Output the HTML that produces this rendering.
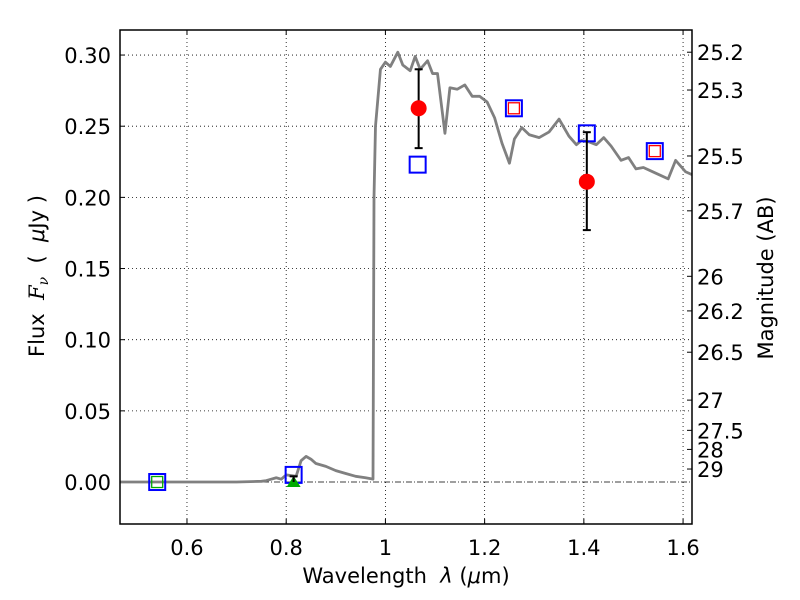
<!DOCTYPE html>
<html><head><meta charset="utf-8"><style>
body{margin:0;background:#fff;}
svg{display:block;font-family:"DejaVu Sans","Liberation Sans",sans-serif;}
</style></head><body>
<svg id="chart" width="800" height="600" viewBox="0 0 800 600"></svg>
<script>
const xTicks=[0.6,0.8,1.0,1.2,1.4,1.6];
const xTickLabels=["0.6","0.8","1","1.2","1.4","1.6"];
const yTicks=[0,0.05,0.10,0.15,0.20,0.25,0.30];
const yTickLabels=["0.00","0.05","0.10","0.15","0.20","0.25","0.30"];
const magTicks=[25.2,25.3,25.5,25.7,26,26.2,26.5,27,27.5,28,29];
const specX=[0.465,0.6,0.7,0.75,0.76,0.78,0.79,0.80,0.82,0.83,0.84,0.85,0.86,0.88,0.90,0.92,0.94,0.96,0.975,0.977,0.98,0.99,1.0,1.01,1.025,1.035,1.05,1.06,1.07,1.085,1.095,1.105,1.12,1.13,1.145,1.16,1.175,1.19,1.205,1.22,1.235,1.25,1.26,1.275,1.29,1.31,1.33,1.35,1.37,1.385,1.395,1.41,1.425,1.44,1.455,1.475,1.49,1.505,1.52,1.545,1.57,1.585,1.605,1.618];
const specY=[0,0,0,0.0005,0.001,0.003,0.002,0.005,0.004,0.015,0.018,0.016,0.013,0.011,0.008,0.006,0.004,0.003,0.002,0.2,0.25,0.29,0.295,0.292,0.302,0.293,0.289,0.299,0.290,0.296,0.287,0.287,0.245,0.277,0.276,0.279,0.271,0.271,0.267,0.256,0.238,0.224,0.241,0.249,0.244,0.242,0.246,0.255,0.243,0.237,0.240,0.239,0.237,0.242,0.236,0.226,0.228,0.220,0.221,0.217,0.213,0.226,0.218,0.216];
const obsX=[1.067,1.406];
const obsY=[0.2626,0.211];
const obsLo=[0.2346,0.177];
const obsHi=[0.290,0.2458];
const modelX=[0.540,0.815,1.065,1.259,1.406,1.543];
const modelY=[0.0,0.005,0.223,0.2626,0.245,0.2325];
const redX=[1.259,1.543];
const redY=[0.2626,0.2325];
const greenSqX=[0.540];
const greenSqY=[0.0];
const triX=[0.815];
const triY=[0.0];
const triHi=[0.004];

const L=120,R=692,T=30,B=524;
const X0=0.465,X1=1.618,Y0=-0.0295,Y1=0.3176;
const sx=v=>L+(v-X0)/(X1-X0)*(R-L);
const sy=v=>B-(v-Y0)/(Y1-Y0)*(B-T);
const svg=document.getElementById('chart');
const NS='http://www.w3.org/2000/svg';
function mk(tag,attrs,parent){const e=document.createElementNS(NS,tag);for(const k in attrs)e.setAttribute(k,attrs[k]);(parent||svg).appendChild(e);return e;}

xTicks.forEach((t,i)=>{
 const g=mk('line',{x1:sx(t),x2:sx(t),y1:T,y2:B,stroke:'#000','stroke-width':0.8,'stroke-dasharray':'1,3'});
 
 
 mk('line',{x1:sx(t),x2:sx(t),y1:B,y2:B-5,stroke:'#000'});
 mk('line',{x1:sx(t),x2:sx(t),y1:T,y2:T+5,stroke:'#000'});
 const tx=mk('text',{x:sx(t),y:B+31,'font-size':21,'text-anchor':'middle'});
 tx.textContent=xTickLabels[i];
 
 
});
yTicks.forEach((t,i)=>{
 if(t!==0){const g=mk('line',{x1:L,x2:R,y1:sy(t),y2:sy(t),stroke:'#000','stroke-width':0.8,'stroke-dasharray':'1,3'});
 
 }
 mk('line',{x1:L,x2:L+5,y1:sy(t),y2:sy(t),stroke:'#000'});
 const tx=mk('text',{x:L-9,y:sy(t)+8,'font-size':21,'text-anchor':'end'});
 tx.textContent=yTickLabels[i];
 
 
});
magTicks.forEach(m=>{
 const f=Math.pow(10,(23.9-m)/2.5);
 mk('line',{x1:R,x2:R-5,y1:sy(f),y2:sy(f),stroke:'#000'});
 const tx=mk('text',{x:R+5,y:sy(f)+8,'font-size':21});
 tx.textContent=String(m);
 
 
});
const z=mk('line',{x1:L,x2:R,y1:sy(0),y2:sy(0),stroke:'#000','stroke-width':0.8,'stroke-dasharray':'6,2,1,2'});


const sp=mk('polyline',{points:specX.map((x,i)=>sx(x)+','+sy(specY[i])).join(' '),fill:'none',stroke:'#808080','stroke-width':2.8,'stroke-linejoin':'round'});


modelX.forEach((x,i)=>{
 const r=mk('rect',{x:sx(x)-8,y:sy(modelY[i])-8,width:16,height:16,fill:'none',stroke:'#0000ff','stroke-width':2});
 
 
});
redX.forEach((x,i)=>{
 const r=mk('rect',{x:sx(x)-5.5,y:sy(redY[i])-5.5,width:11,height:11,fill:'none',stroke:'#ff0000','stroke-width':1.3});
 
 
});
greenSqX.forEach((x,i)=>{
 const r=mk('rect',{x:sx(x)-5.5,y:sy(greenSqY[i])-5.5,width:11,height:11,fill:'none',stroke:'#00aa00','stroke-width':1.3});
 
 
});
triX.forEach((x,i)=>{
 const cx=sx(x),cy=sy(triY[i]);
 const t=mk('polygon',{points:`${cx-7},${cy+5} ${cx+7},${cy+5} ${cx},${cy-6}`,fill:'#00aa00'});
 
 
 mk('line',{x1:cx,x2:cx,y1:sy(triHi[i]),y2:cy,stroke:'#000','stroke-width':2});
 mk('line',{x1:cx-4,x2:cx+4,y1:sy(triHi[i]),y2:sy(triHi[i]),stroke:'#000','stroke-width':2});
});
obsX.forEach((x,i)=>{
 const cx=sx(x);
 const eb=mk('line',{x1:cx,x2:cx,y1:sy(obsHi[i]),y2:sy(obsLo[i]),stroke:'#000','stroke-width':2});
 
 
 mk('line',{x1:cx-4,x2:cx+4,y1:sy(obsHi[i]),y2:sy(obsHi[i]),stroke:'#000','stroke-width':2});
 mk('line',{x1:cx-4,x2:cx+4,y1:sy(obsLo[i]),y2:sy(obsLo[i]),stroke:'#000','stroke-width':2});
 const c=mk('circle',{cx:cx,cy:sy(obsY[i]),r:8,fill:'#ff0000'});
 
 
});
const fr=mk('rect',{x:L,y:T,width:R-L,height:B-T,fill:'none',stroke:'#000','stroke-width':1.5});


</script>
<svg style="position:absolute;left:0;top:0" width="800" height="600">
<text x="406" y="583" font-size="21" text-anchor="middle" xml:space="preserve" font-family="DejaVu Sans, sans-serif">Wavelength  <tspan font-style="italic">λ</tspan> (<tspan font-style="italic">μ</tspan>m)</text>
<text transform="translate(44,276) rotate(-90)" font-size="21" text-anchor="middle" xml:space="preserve" font-family="DejaVu Sans, sans-serif">Flux  <tspan font-style="italic" font-family="DejaVu Serif, serif">F<tspan font-size="14" dy="4">ν</tspan></tspan><tspan dy="-4">  (  </tspan><tspan font-style="italic">μ</tspan>Jy )</text>
<text transform="translate(773,278) rotate(-90)" font-size="21" text-anchor="middle" font-family="DejaVu Sans, sans-serif">Magnitude (AB)</text>
</svg>
</body></html>
